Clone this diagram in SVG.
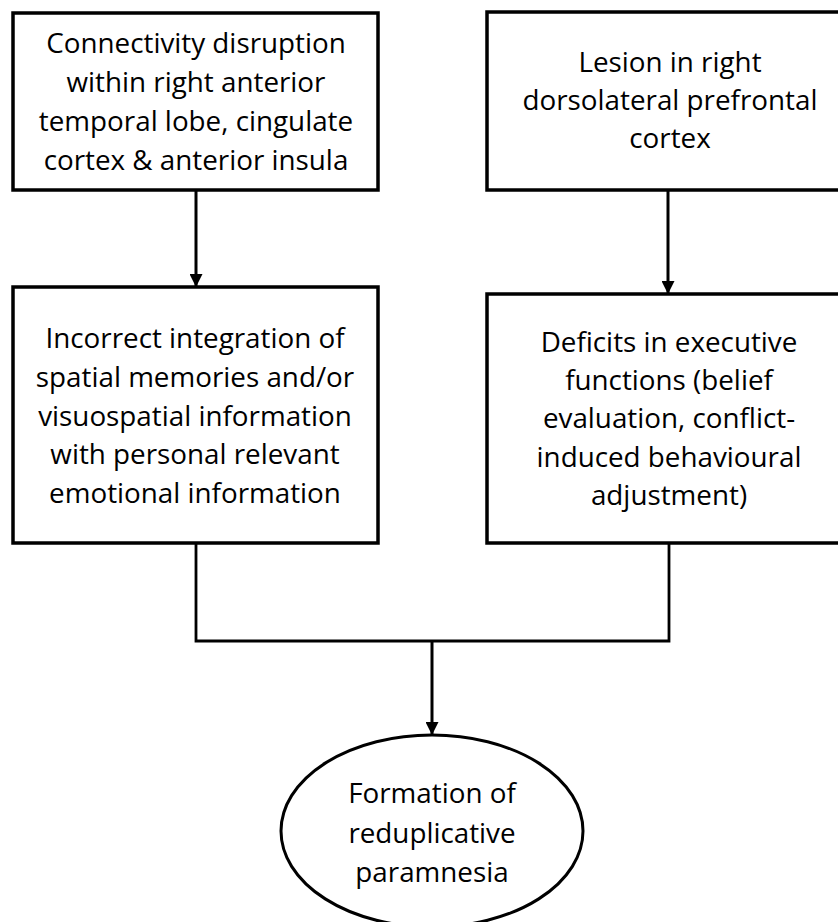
<svg xmlns="http://www.w3.org/2000/svg" width="838" height="922" viewBox="0 0 838 922">
<style>
.box{fill:#fff;stroke:#000;stroke-width:3.5}
.lbl{font-family:"Open Sans","Noto Sans","DejaVu Sans",sans-serif;font-size:27.8px;fill:#000;text-anchor:middle}
.con{fill:none;stroke:#000;stroke-width:3}
</style>
<defs>
<marker id="arr" markerWidth="14" markerHeight="13" refX="13" refY="6.5" orient="auto" markerUnits="userSpaceOnUse">
<path d="M0,0 L13,6.5 L0,13 Z" fill="#000"/>
</marker>
</defs>
<rect width="838" height="922" fill="#fff"/>
<g id="connectors">
<line class="con" x1="196" y1="190" x2="196" y2="287" marker-end="url(#arr)"/>
<line class="con" x1="668" y1="190" x2="668" y2="294" marker-end="url(#arr)"/>
<polyline class="con" points="196,543 196,641 669,641 669,543" style="stroke-width:2.8"/>
<line class="con" x1="432" y1="641" x2="432" y2="735" marker-end="url(#arr)"/>
</g>
<g id="n1">
<rect class="box" x="13" y="13" width="365" height="177"/>
<text class="lbl" x="196" y="53">Connectivity disruption</text>
<text class="lbl" x="196" y="92">within right anterior</text>
<text class="lbl" x="196" y="131">temporal lobe, cingulate</text>
<text class="lbl" x="196" y="170">cortex &amp; anterior insula</text>
</g>
<g id="n2">
<rect class="box" x="487" y="12" width="365" height="178"/>
<text class="lbl" x="670" y="72">Lesion in right</text>
<text class="lbl" x="670" y="110">dorsolateral prefrontal</text>
<text class="lbl" x="670" y="148">cortex</text>
</g>
<g id="n3">
<rect class="box" x="13" y="287" width="365" height="256"/>
<text class="lbl" x="195" y="348">Incorrect integration of</text>
<text class="lbl" x="195" y="387">spatial memories and/or</text>
<text class="lbl" x="195" y="426">visuospatial information</text>
<text class="lbl" x="195" y="464">with personal relevant</text>
<text class="lbl" x="195" y="503">emotional information</text>
</g>
<g id="n4">
<rect class="box" x="487" y="294" width="365" height="249"/>
<text class="lbl" x="669" y="352">Deficits in executive</text>
<text class="lbl" x="669" y="390">functions (belief</text>
<text class="lbl" x="669" y="428">evaluation, conflict-</text>
<text class="lbl" x="669" y="467">induced behavioural</text>
<text class="lbl" x="669" y="505">adjustment)</text>
</g>
<g id="n5">
<ellipse class="box" cx="432" cy="831" rx="151" ry="96" style="stroke-width:3"/>
<text class="lbl" x="432" y="803">Formation of</text>
<text class="lbl" x="432" y="843">reduplicative</text>
<text class="lbl" x="432" y="882">paramnesia</text>
</g>
</svg>
